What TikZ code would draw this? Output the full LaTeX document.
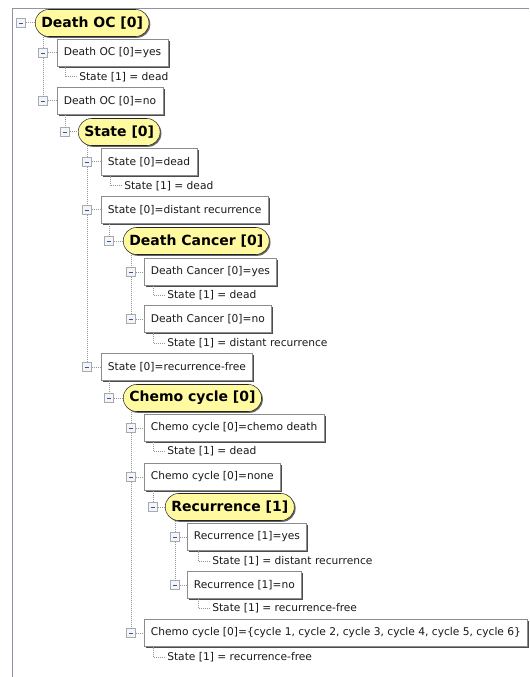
\documentclass[tikz,border=0pt]{standalone}
\usepackage{fontspec}
\setmainfont{DejaVu Sans}
\usepackage{xcolor}
\usepackage{tikz}
\usetikzlibrary{shadows}
\definecolor{nodeyellow}{RGB}{255,250,160}
\definecolor{treegray}{RGB}{150,150,150}
\definecolor{framegray}{RGB}{140,150,163}
\definecolor{minusblue}{RGB}{60,80,160}

\begin{document}
\begin{tikzpicture}[x=0.75pt, y=-0.75pt,
  chance/.style={draw=black!85, fill=nodeyellow, rounded corners=10pt,
    anchor=west, minimum height=20.25pt, inner xsep=4.5pt,
    font=\fontsize{10.5}{12}\selectfont\bfseries,
    drop shadow={shadow xshift=1pt, shadow yshift=-1pt, fill=black!60, opacity=1}},
  value/.style={draw=black!45, fill=white, anchor=west,
    minimum height=20.25pt, inner xsep=5pt, text=black!90,
    font=\fontsize{8}{10}\selectfont,
    drop shadow={shadow xshift=1.3pt, shadow yshift=-1.3pt, fill=black!70, opacity=1}},
  leaf/.style={anchor=west, inner xsep=1.5pt, inner ysep=1pt, text=black!90,
    font=\fontsize{8}{10}\selectfont},
  toggle/.style={draw=framegray!80, fill=black!4, minimum size=7pt, inner sep=0pt,
    path picture={\draw[minusblue, line width=0.6pt]
      ([xshift=-1.6pt]path picture bounding box.center) --
      ([xshift=1.6pt]path picture bounding box.center);}},
  tree/.style={draw=treegray, line width=0.75pt, dash pattern=on 0.75pt off 0.75pt}
]
\useasboundingbox (0,0) rectangle (529,677);

% window frame
\draw[framegray, line width=1.2pt] (12.5,677) -- (12.5,8.5) -- (529,8.5);

% Death OC
\node[toggle] (tDeathOC) at (21,23) {};
\node[chance] (deathOC) at (35,23) {Death OC [0]};
\node[toggle] (tOCyes) at (43,53) {};
\node[value] (ocYes) at (57,53) {Death OC [0]=yes};
\node[leaf] (ocYesLeaf) at (77,77) {State [1] = dead};
\node[toggle] (tOCno) at (43,101) {};
\node[value] (ocNo) at (57,101) {Death OC [0]=no};

% State
\node[toggle] (tState) at (65,132) {};
\node[chance] (state) at (78,132) {State [0]};
\node[toggle] (tStDead) at (87,162) {};
\node[value] (stDead) at (101,162) {State [0]=dead};
\node[leaf] (stDeadLeaf) at (122,186) {State [1] = dead};
\node[toggle] (tStDist) at (87,210) {};
\node[value] (stDist) at (101,210) {State [0]=distant recurrence};
\node[toggle] (tStFree) at (87,367) {};
\node[value] (stFree) at (101,367) {State [0]=recurrence-free};

% Death Cancer
\node[toggle] (tCancer) at (109,241) {};
\node[chance] (cancer) at (123,241) {Death Cancer [0]};
\node[toggle] (tCaYes) at (131,272) {};
\node[value] (caYes) at (144,272) {Death Cancer [0]=yes};
\node[leaf] (caYesLeaf) at (165,295) {State [1] = dead};
\node[toggle] (tCaNo) at (131,319) {};
\node[value] (caNo) at (144,319) {Death Cancer [0]=no};
\node[leaf] (caNoLeaf) at (165,343) {State [1] = distant recurrence};

% Chemo cycle
\node[toggle] (tChemo) at (109,398) {};
\node[chance] (chemo) at (123,398) {Chemo cycle [0]};
\node[toggle] (tChDeath) at (131,428) {};
\node[value] (chDeath) at (144,428) {Chemo cycle [0]=chemo death};
\node[leaf] (chDeathLeaf) at (165,451) {State [1] = dead};
\node[toggle] (tChNone) at (131,477) {};
\node[value] (chNone) at (144,477) {Chemo cycle [0]=none};
\node[toggle] (tChAll) at (131,633) {};
\node[value] (chAll) at (144,633)
  {Chemo cycle [0]=\{cycle 1, cycle 2, cycle 3, cycle 4, cycle 5, cycle 6\}};
\node[leaf] (chAllLeaf) at (165,657) {State [1] = recurrence-free};

% Recurrence
\node[toggle] (tRec) at (153,507) {};
\node[chance] (rec) at (165,507) {Recurrence [1]};
\node[toggle] (tReYes) at (175,537) {};
\node[value] (reYes) at (187,537) {Recurrence [1]=yes};
\node[leaf] (reYesLeaf) at (210,561) {State [1] = distant recurrence};
\node[toggle] (tReNo) at (175,585) {};
\node[value] (reNo) at (187,585) {Recurrence [1]=no};
\node[leaf] (reNoLeaf) at (210,608) {State [1] = recurrence-free};

% toggles to their nodes
\draw[tree] (tDeathOC) -- (deathOC) (tOCyes) -- (ocYes) (tOCno) -- (ocNo);
\draw[tree] (tState) -- (state) (tStDead) -- (stDead) (tStDist) -- (stDist)
  (tStFree) -- (stFree);
\draw[tree] (tCancer) -- (cancer) (tCaYes) -- (caYes) (tCaNo) -- (caNo);
\draw[tree] (tChemo) -- (chemo) (tChDeath) -- (chDeath) (tChNone) -- (chNone)
  (tChAll) -- (chAll);
\draw[tree] (tRec) -- (rec) (tReYes) -- (reYes) (tReNo) -- (reNo);

% branches
\draw[tree] (tOCyes |- deathOC.south) -- (tOCyes) -- (tOCno);
\draw[tree] (tState |- ocNo.south) -- (tState);
\draw[tree] (tStDead |- state.south) -- (tStDead) -- (tStDist) -- (tStFree);
\draw[tree] (tCancer |- stDist.south) -- (tCancer);
\draw[tree] (tCaYes |- cancer.south) -- (tCaYes) -- (tCaNo);
\draw[tree] (tChemo |- stFree.south) -- (tChemo);
\draw[tree] (tChDeath |- chemo.south) -- (tChDeath) -- (tChNone) -- (tChAll);
\draw[tree] (tRec |- chNone.south) -- (tRec);
\draw[tree] (tReYes |- rec.south) -- (tReYes) -- (tReNo);

% leaves
\draw[tree] (ocYesLeaf.west) -- ++(-12,0) coordinate (e) -- (e |- ocYes.south);
\draw[tree] (stDeadLeaf.west) -- ++(-12,0) coordinate (e) -- (e |- stDead.south);
\draw[tree] (caYesLeaf.west) -- ++(-12,0) coordinate (e) -- (e |- caYes.south);
\draw[tree] (caNoLeaf.west) -- ++(-12,0) coordinate (e) -- (e |- caNo.south);
\draw[tree] (chDeathLeaf.west) -- ++(-12,0) coordinate (e) -- (e |- chDeath.south);
\draw[tree] (chAllLeaf.west) -- ++(-12,0) coordinate (e) -- (e |- chAll.south);
\draw[tree] (reYesLeaf.west) -- ++(-12,0) coordinate (e) -- (e |- reYes.south);
\draw[tree] (reNoLeaf.west) -- ++(-12,0) coordinate (e) -- (e |- reNo.south);

\end{tikzpicture}
\end{document}
